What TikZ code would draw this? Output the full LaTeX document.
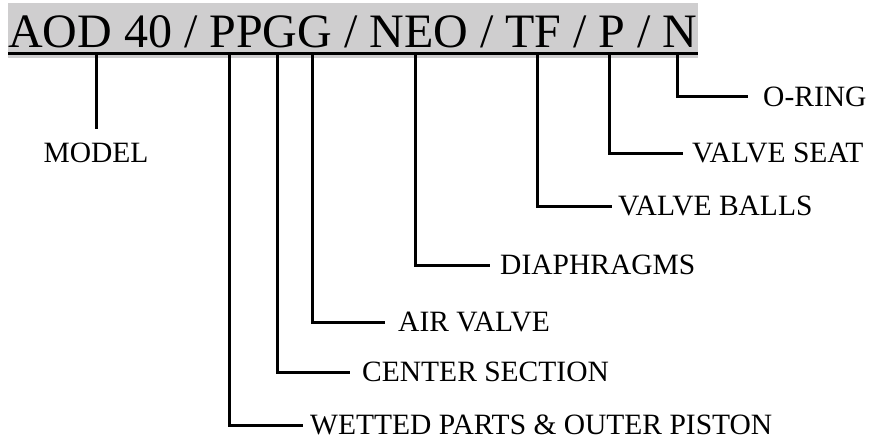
\documentclass[tikz,border=0pt]{standalone}
\usepackage{fontspec}
\setmainfont{Liberation Serif}
\definecolor{hdrgray}{RGB}{207,206,207}
\tikzset{
  lbl/.style={anchor=west, inner ysep=0pt, text height=19.5pt, text depth=0pt,
              font=\fontsize{29.5}{32}\selectfont},
  lead/.style={line width=3pt, line join=miter},
}
\begin{document}
\begin{tikzpicture}[x=1pt,y=-1pt]
\useasboundingbox (0,0) rectangle (871,444);
% header
\fill[hdrgray] (8,3) rectangle (698,58);
\node[anchor=base west, inner sep=0pt, font=\fontsize{48}{52}\selectfont] (code) at (8,48) {AOD 40 / PPGG / NEO / TF / P / N};
\draw[line width=3pt] (8,53.5) -- (698,53.5);
% tap points on the underline
\coordinate (tModel)  at (96.7,55);
\coordinate (tWet)    at (229.3,55);
\coordinate (tCen)    at (277.3,55);
\coordinate (tAir)    at (312,55);
\coordinate (tDia)    at (415.3,55);
\coordinate (tBall)   at (537.3,55);
\coordinate (tSeat)   at (609,55);
\coordinate (tRing)   at (677.3,55);
% labels
\node[lbl, anchor=center] (model) at (96,153) {MODEL};
\node[lbl, inner xsep=15pt] (ring) at (748,97) {O-RING};
\node[lbl, inner xsep=9pt]  (seat) at (683,153) {VALVE SEAT};
\node[lbl, inner xsep=6pt]  (ball) at (612,206) {VALVE BALLS};
\node[lbl, inner xsep=10pt] (dia)  at (490,265) {DIAPHRAGMS};
\node[lbl, inner xsep=13pt] (air)  at (385,322) {AIR VALVE};
\node[lbl, inner xsep=12pt] (cen)  at (350,372) {CENTER SECTION};
\node[lbl, inner xsep=7pt]  (wet)  at (303,425) {WETTED PARTS \& OUTER PISTON};
% leaders
\draw[lead] (tModel) -- (tModel |- 0,129);
\draw[lead] (tRing) |- (ring.west);
\draw[lead] (tSeat) |- (seat.west);
\draw[lead] (tBall) |- (ball.west);
\draw[lead] (tDia)  |- (dia.west);
\draw[lead] (tAir)  |- (air.west);
\draw[lead] (tCen)  |- (cen.west);
\draw[lead] (tWet)  |- (wet.west);
\end{tikzpicture}
\end{document}
